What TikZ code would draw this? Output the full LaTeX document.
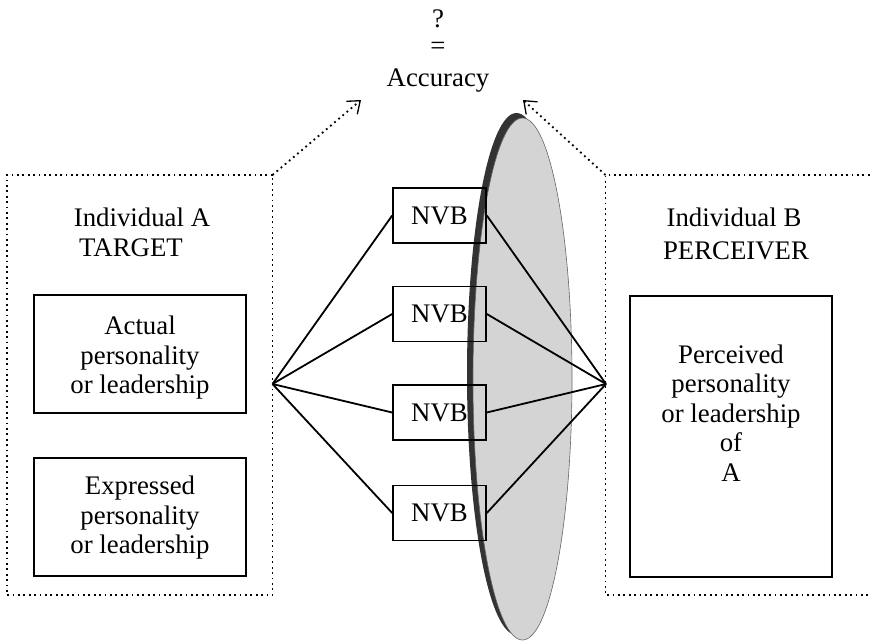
\documentclass[tikz,border=0pt]{standalone}
\usepackage{fontspec}
\setmainfont{Liberation Serif}
\usetikzlibrary{arrows.meta}

\begin{document}
\begin{tikzpicture}[x=1pt,y=-1pt,
  txt/.style={font=\fontsize{26.8}{29.5}\selectfont, align=center, inner sep=0pt},
  frame/.style={draw, line width=1.8pt, dash pattern=on 1.8pt off 3.6pt},
  pointer/.style={frame, -{Straight Barb[length=11pt,width=17pt,line width=1.3pt]}},
  box/.style={draw, line width=1.6pt, inner sep=0pt},
  nvb/.style={box, txt, minimum width=93pt, minimum height=55pt},
  link/.style={line width=1.8pt}]
\useasboundingbox (0,0) rectangle (870,640);

% heading
\node[txt, anchor=base] (q)   at (438,27) {?};
\node[txt, anchor=base] (eq)  at (438,54) {=};
\node[txt, anchor=base] (acc) at (438,86.5) {Accuracy};

% lens: shadow and grey body
\fill[black!80] (516.5,374) ellipse [x radius=49.5, y radius=261];
\filldraw[fill=black!17, draw=black!60, line width=0.6pt] (522.5,379) ellipse [x radius=49.5, y radius=261];

% dotted frames
\coordinate (lc) at (272.5,175);
\coordinate (rc) at (605.5,175);
\coordinate (tipL) at (361,100);
\coordinate (tipR) at (523,100);
\draw[frame] (lc) -- (7,175) -- (7,595) -- (272.5,595) -- cycle;
\draw[frame] (875,175) -- (rc) -- (605.5,595) -- (875,595);
\draw[pointer] (lc) -- (tipL);
\draw[pointer] (rc) -- (tipR);

% target side
\node[txt, anchor=base] (ia) at (142,226) {Individual A};
\node[txt, anchor=base] (tg) at (131,256) {TARGET};
\node[box, minimum width=212pt, minimum height=118pt] (act) at (140,354) {};
\node[txt] (acttxt) at (140,358) {Actual\\personality\\or leadership};
\node[box, minimum width=212pt, minimum height=118pt] (exp) at (140,517) {};
\node[txt] (exptxt) at (140,518) {Expressed\\personality\\or leadership};

% perceiver side
\node[txt, anchor=base] (ib) at (734,226) {Individual B};
\node[txt, anchor=base] (pc) at (736,259) {PERCEIVER};
\node[box, minimum width=202pt, minimum height=281pt] (perc) at (731,436.5) {};
\node[txt] (perctxt) at (731,413) {Perceived\\personality\\or leadership\\of\\A};

% cues
\node[nvb] (n1) at (439.5,215.5) {NVB};
\node[nvb] (n2) at (439.5,314) {NVB};
\node[nvb] (n3) at (439.5,412.5) {NVB};
\node[nvb] (n4) at (439.5,513) {NVB};

\coordinate (hl) at (272.5,384);
\coordinate (hr) at (606,384);
\foreach \n in {n1,n2,n3,n4}{
  \draw[link] (hl) -- (\n.west);
  \draw[link] (\n.east) -- (hr);
}
\end{tikzpicture}
\end{document}
